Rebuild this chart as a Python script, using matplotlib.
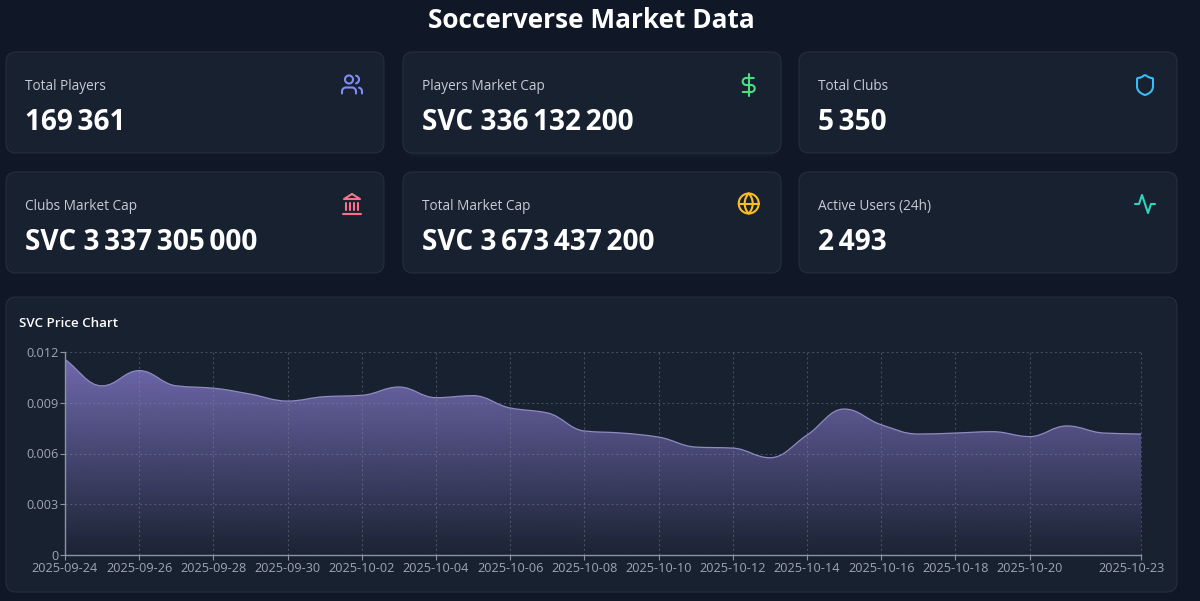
import numpy as np
import pandas as pd
import matplotlib
matplotlib.use('Agg')
import matplotlib.pyplot as plt
import matplotlib.dates as mdates
from matplotlib.patches import FancyBboxPatch, PathPatch
from matplotlib.path import Path
from matplotlib.transforms import ScaledTranslation

plt.rcParams['font.family'] = ['Open Sans', 'Noto Sans', 'DejaVu Sans']

# data
dates = pd.date_range('2025-09-24', '2025-10-23', freq='D')
prices = [0.01156, 0.01000, 0.01090, 0.01000, 0.00986, 0.00951, 0.00910, 0.00936,
          0.00944, 0.00993, 0.00930, 0.00942, 0.00869, 0.00840, 0.00733, 0.00721,
          0.00697, 0.00638, 0.00632, 0.00575, 0.00709, 0.00863, 0.00770, 0.00715,
          0.00721, 0.00729, 0.00700, 0.00763, 0.00721, 0.00715]
x_ticks = ['2025-09-24', '2025-09-26', '2025-09-28', '2025-09-30', '2025-10-02',
           '2025-10-04', '2025-10-06', '2025-10-08', '2025-10-10', '2025-10-12',
           '2025-10-14', '2025-10-16', '2025-10-18', '2025-10-20', '2025-10-23']
y_ticks = [0, 0.003, 0.006, 0.009, 0.012]
y_tick_labels = ['0', '0.003', '0.006', '0.009', '0.012']

card_labels = ['Total Players', 'Players Market Cap', 'Total Clubs',
               'Clubs Market Cap', 'Total Market Cap', 'Active Users (24h)']
card_values = ['169\u202f361', 'SVC 336\u202f132\u202f200', '5\u202f350',
               'SVC 3\u202f337\u202f305\u202f000', 'SVC 3\u202f673\u202f437\u202f200', '2\u202f493']
card_colors = ['#818cf8', '#4ade80', '#38bdf8', '#fb7185', '#fbbf24', '#2dd4bf']

BG = '#101726'
CARD = '#182130'
EDGE = '#252f3e'

fig = plt.figure(figsize=(12, 6.01), dpi=100, facecolor=BG)

# whole figure in pixel coordinates for the cards
page = fig.add_axes([0, 0, 1, 1])
page.set_xlim(0, 1200)
page.set_ylim(601, 0)
page.axis('off')


def card(x0, y0, x1, y1):
    page.add_patch(FancyBboxPatch((x0 + 10, y0 + 10), x1 - x0 - 20, y1 - y0 - 20,
                                  boxstyle='round,pad=10,rounding_size=10',
                                  fc=CARD, ec=EDGE, lw=0.8))


def stroke(ox, oy, pts, color, closed=False):
    pts = np.array(pts, dtype=float)
    if closed:
        pts = np.vstack([pts, pts[:1]])
    page.plot(pts[:, 0] + ox, pts[:, 1] + oy, color=color, lw=1.5,
              solid_capstyle='round', solid_joinstyle='round')


def arc(cx, cy, r, a0, a1):
    t = np.radians(np.linspace(a0, a1, 40))
    return np.column_stack([cx + r * np.cos(t), cy + r * np.sin(t)])


def bez(p0, p1, p2, p3):
    t = np.linspace(0, 1, 30)[:, None]
    p0, p1, p2, p3 = map(np.array, (p0, p1, p2, p3))
    return (1 - t) ** 3 * p0 + 3 * (1 - t) ** 2 * t * p1 + 3 * (1 - t) * t ** 2 * p2 + t ** 3 * p3


def icon_users(ox, oy, c):
    stroke(ox, oy, arc(9, 7, 4, 0, 360), c)
    stroke(ox, oy, np.vstack([[[16, 21], [16, 19]], arc(12, 19, 4, 0, -90),
                              arc(6, 19, 4, -90, -180), [[2, 21]]]), c)
    stroke(ox, oy, np.vstack([[[22, 21], [22, 19]], arc(18, 19, 4, 0, -75)]), c)
    stroke(ox, oy, arc(15, 7, 4, -75, 75), c)


def icon_dollar(ox, oy, c):
    stroke(ox, oy, [[12, 1], [12, 23]], c)
    stroke(ox, oy, np.vstack([[[17, 5]], arc(9.5, 8.5, 3.5, -90, -270),
                              arc(14.5, 15.5, 3.5, -90, 90), [[6, 19]]]), c)


def icon_shield(ox, oy, c):
    pts = np.vstack([bez((20, 13), (20, 18), (16.5, 20.5), (12.34, 21.95)),
                     bez((11.67, 21.94), (7.5, 20.5), (4, 18), (4, 13)),
                     arc(5, 6, 1, 180, 270),
                     bez((5, 5), (7, 5), (9.5, 3.8), (11.24, 2.28)),
                     bez((12.76, 2.28), (14.51, 3.81), (17, 5), (19, 5)),
                     arc(19, 6, 1, 270, 360)])
    stroke(ox, oy, pts, c, closed=True)


def icon_landmark(ox, oy, c):
    stroke(ox, oy, [[3, 22], [21, 22]], c)
    for px in [6, 10, 14, 18]:
        stroke(ox, oy, [[px, 18], [px, 11]], c)
    stroke(ox, oy, [[12, 2], [20, 7], [4, 7]], c, closed=True)


def icon_globe(ox, oy, c):
    stroke(ox, oy, arc(12, 12, 10, 0, 360), c)
    stroke(ox, oy, [[2, 12], [22, 12]], c)
    stroke(ox, oy, arc(1.5, 12, 14.5, -43.6, 43.6), c)
    stroke(ox, oy, arc(22.5, 12, 14.5, 136.4, 223.6), c)


def icon_activity(ox, oy, c):
    stroke(ox, oy, [[22, 12], [18, 12], [15, 21], [9, 3], [6, 12], [2, 12]], c)


# faint green glow under the hovered card
for g, a in [(6, 0.012), (4, 0.02), (2, 0.03)]:
    page.add_patch(FancyBboxPatch((415, 62 + g), 354, 81,
                                  boxstyle='round,pad=10,rounding_size=10',
                                  fc='#4ade80', ec='none', alpha=a))

card_xs = [(6, 384), (403, 781), (799, 1177)]
card_ys = [(52, 153), (172, 273)]
icons = [icon_users, icon_dollar, icon_shield, icon_landmark, icon_globe, icon_activity]
icon_pos = [(340, 72.5), (736.7, 73), (1133, 73), (340, 192), (736.7, 191.5), (1133, 192)]

for i in range(6):
    x0, x1 = card_xs[i % 3]
    y0, y1 = card_ys[i // 3]
    card(x0, y0, x1, y1)
    page.text(x0 + 19, y0 + 38, card_labels[i], color='#c6ccd6', fontsize=9.8,
              ha='left', va='baseline')
    page.text(x0 + 19, y0 + 78, card_values[i], color='white', fontsize=20.2,
              fontweight='bold', ha='left', va='baseline')
    icons[i](icon_pos[i][0], icon_pos[i][1], card_colors[i])

card(6, 297, 1177, 592)
page.text(591.5, 21, 'Soccerverse Market Data', color='white', fontsize=18.9,
          fontweight='bold', ha='center', va='center')
page.text(19, 327, 'SVC Price Chart', color='white', fontsize=9.6,
          fontweight='semibold', ha='left', va='baseline')

# price chart
ax = fig.add_axes([65 / 1200, 1 - 555 / 601, (1141 - 65) / 1200, (555 - 352) / 601])
ax.patch.set_alpha(0)
xs = mdates.date2num(dates)
ys = np.array(prices)

# monotone cubic through the read values
d = np.diff(ys)
m = np.zeros_like(ys)
m[0], m[-1] = d[0], d[-1]
for i in range(1, len(ys) - 1):
    if d[i - 1] * d[i] > 0:
        m[i] = 2 * d[i - 1] * d[i] / (d[i - 1] + d[i])
verts = [(xs[0], ys[0])]
codes = [Path.MOVETO]
for i in range(len(ys) - 1):
    verts += [(xs[i] + 0.4, ys[i] + 0.4 * m[i]),
              (xs[i + 1] - 0.4, ys[i + 1] - 0.4 * m[i + 1]),
              (xs[i + 1], ys[i + 1])]
    codes += [Path.CURVE4] * 3
top_path = Path(verts, codes)
fill_path = Path(verts + [(xs[-1], 0), (xs[0], 0), (xs[0], ys[0])],
                 codes + [Path.LINETO, Path.LINETO, Path.CLOSEPOLY])

grad = np.zeros((256, 1, 4))
grad[:, 0, :3] = np.array([120, 111, 184]) / 255
grad[:, 0, 3] = np.linspace(0.92, 0.03, 256)
im = ax.imshow(grad, extent=[xs[0], xs[-1], 0, ys.max()], origin='upper',
               aspect='auto', zorder=1)
im.set_clip_path(PathPatch(fill_path, transform=ax.transData))
ax.set_xlim(xs[0], xs[-1])
ax.set_ylim(0, 0.012)

ax.add_patch(PathPatch(top_path, fc='none', ec='#8f8ac0', lw=0.9, zorder=3))

ax.set_xticks(mdates.date2num(pd.to_datetime(x_ticks)))
ax.set_xticklabels(x_ticks)
ax.set_yticks(y_ticks)
ax.set_yticklabels(y_tick_labels)
ax.grid(True, color='#8b93a3', alpha=0.4, lw=0.8, ls=(0, (1.8, 2.4)), zorder=2)
ax.set_axisbelow(False)
for gl in ax.get_xgridlines() + ax.get_ygridlines():
    gl.set_clip_on(False)
for s in ['top', 'right']:
    ax.spines[s].set_visible(False)
for s in ['left', 'bottom']:
    ax.spines[s].set_color('#8c94a4')
    ax.spines[s].set_linewidth(1.0)
ax.tick_params(colors='#8c94a4', labelcolor='#a0a7b3', labelsize=9.1, length=3.5, width=0.8, pad=1.2)

# last date label sits inside the chart edge
last = ax.get_xticklabels()[-1]
last.set_transform(last.get_transform() + ScaledTranslation(-9.5 / 100, 0, fig.dpi_scale_trans))

fig.savefig('out.png', dpi=100, facecolor=BG)
